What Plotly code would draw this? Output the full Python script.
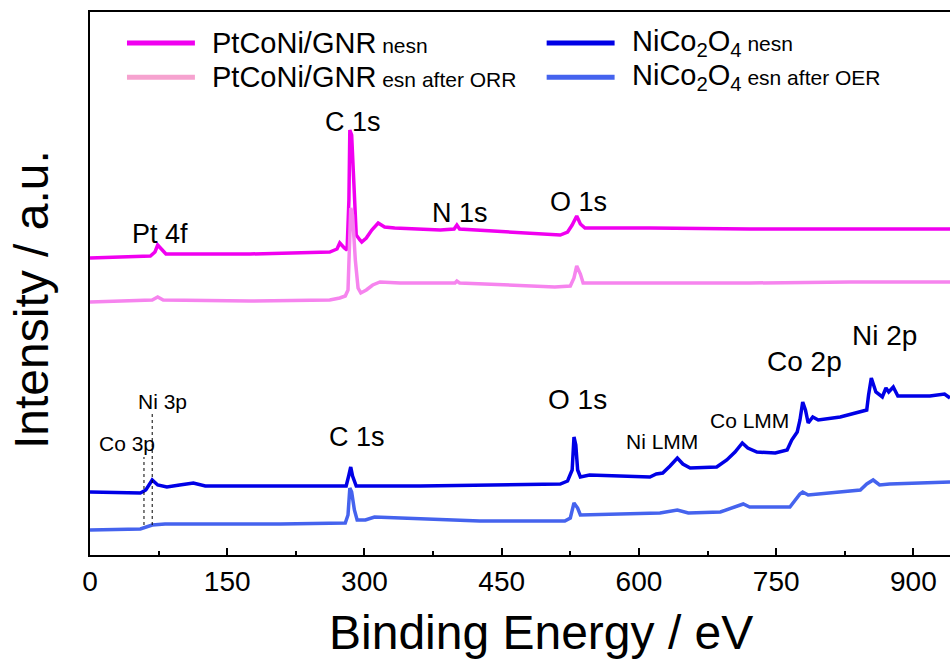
import plotly.graph_objects as go

# Survey XPS spectra (binding energy in eV, intensity in arbitrary units, offset for stacking)
pt_nesn_be = [0, 55, 66, 71, 74, 79, 83, 175, 219, 262, 270, 273, 278, 281, 283, 284, 286, 289, 291,
              295, 297, 302, 308, 315, 322, 333, 361, 383, 398, 401, 404, 437, 481, 514, 522, 527,
              532, 536, 541, 612, 721, 831, 940]
pt_nesn_int = [297, 298, 299, 303, 310, 305, 301, 301, 302, 303, 306, 312, 307, 305, 355, 425, 420, 355,
               320, 315, 313, 317, 325, 332, 328, 327, 326, 325, 326, 330, 326, 324, 322, 320, 323, 330,
               339, 331, 327, 327, 326, 326, 326]

pt_orr_be = [0, 55, 68, 74, 80, 175, 262, 273, 279, 282, 284, 285, 287, 290, 293, 296, 302, 309, 317,
             339, 399, 401, 404, 448, 508, 525, 529, 532, 536, 539, 612, 721, 831, 940]
pt_orr_int = [253, 254, 255, 258, 255, 254, 255, 257, 259, 265, 315, 347, 340, 295, 267, 262, 265, 270,
              273, 272, 272, 274, 272, 270, 268, 269, 277, 289, 281, 272, 272, 272, 273, 273]

nco_nesn_be = [0, 55, 61, 68, 74, 84, 98, 113, 126, 208, 280, 283, 285, 287, 291, 361, 426, 514, 522,
               527, 529, 531, 533, 536, 546, 579, 612, 619, 626, 634, 642, 648, 656, 685, 696, 705,
               713, 719, 729, 749, 762, 767, 773, 776, 779, 782, 785, 790, 796, 820, 849, 851, 854,
               859, 866, 870, 873, 878, 883, 918, 934, 940]
nco_nesn_int = [63, 62, 65, 75, 70, 68, 70, 72, 69, 69, 69, 80, 88, 79, 69, 69, 70, 71, 74,
                85, 118, 110, 85, 78, 80, 79, 78, 81, 82, 89, 97, 91, 87, 88, 95, 103,
                112, 107, 103, 102, 105, 115, 123, 135, 153, 145, 132, 138, 135, 138, 145, 160, 177,
                163, 158, 167, 163, 168, 159, 159, 161, 157]

nco_oer_be = [0, 55, 68, 82, 208, 279, 282, 284, 286, 289, 292, 301, 311, 372, 426, 519, 525, 529, 533,
              536, 579, 623, 642, 654, 689, 705, 714, 721, 765, 776, 779, 785, 842, 849, 856, 863,
              874, 940]
nco_oer_int = [25, 26, 30, 31, 31, 32, 40, 67, 63, 45, 35, 35, 38, 36, 34, 34, 37, 52, 47,
               40, 41, 42, 45, 42, 43, 48, 51, 48, 48, 61, 63, 60, 65, 71, 75, 70,
               71, 73]

# Core-level reference lines for Co 3p / Ni 3p
ref_line_be = [59, 68]
ref_line_top = [98, 142]
ref_line_bottom = 30

# Peak labels: text, binding energy, height, font size
peak_labels = ["Pt 4f", "C 1s", "N 1s", "O 1s", "Ni 3p", "Co 3p", "C 1s", "O 1s",
               "Ni LMM", "Co LMM", "Co 2p", "Ni 2p"]
peak_label_be = [76, 287, 404, 534, 79, 40, 292, 533, 625, 721, 781, 868]
peak_label_int = [321, 433, 342, 353, 154, 112, 118, 156, 114, 135, 194, 220]
peak_label_size = [27, 27, 27, 27, 21, 21, 27, 28, 21, 21, 28, 28]

series_names = ["PtCoNi/GNR nesn", "PtCoNi/GNR esn after ORR",
                "NiCo2O4 nesn", "NiCo2O4 esn after OER"]
series_colors = ["#F000F0", "#F684EE", "#0000E6", "#4563EE"]
legend_colors = ["#F000F0", "#F6A2CF", "#0000E6", "#4563EE"]
legend_main = ["PtCoNi/GNR", "PtCoNi/GNR", "NiCo<sub>2</sub>O<sub>4</sub>", "NiCo<sub>2</sub>O<sub>4</sub>"]
legend_small = ["nesn", "esn after ORR", "nesn", "esn after OER"]

FONT = "Liberation Sans, Arial, sans-serif"

fig = go.Figure()
for be, inten, name, color in zip(
        [pt_nesn_be, pt_orr_be, nco_nesn_be, nco_oer_be],
        [pt_nesn_int, pt_orr_int, nco_nesn_int, nco_oer_int],
        series_names, series_colors):
    fig.add_trace(go.Scatter(x=be, y=inten, mode="lines", name=name, showlegend=False,
                             line=dict(color=color, width=3.5)))

for be, top in zip(ref_line_be, ref_line_top):
    fig.add_trace(go.Scatter(x=[be, be], y=[ref_line_bottom, top], mode="lines", showlegend=False,
                             line=dict(color="black", width=1, dash="dot")))

annotations = []
for txt, bx, iy, fs in zip(peak_labels, peak_label_be, peak_label_int, peak_label_size):
    annotations.append(dict(x=bx, y=iy, xref="x", yref="y", text=txt, showarrow=False,
                            xanchor="center", yanchor="middle",
                            font=dict(family=FONT, size=fs, color="black")))

# Two-column legend drawn in paper coordinates
legend_col_x = [0.043, 0.043, 0.531, 0.531]
legend_row_y = [0.943, 0.880, 0.943, 0.880]
shapes = []
for cx, ry, col, main, small in zip(legend_col_x, legend_row_y, legend_colors, legend_main, legend_small):
    shapes.append(dict(type="line", xref="paper", yref="paper", x0=cx, x1=cx + 0.079, y0=ry, y1=ry,
                       line=dict(color=col, width=5)))
    annotations.append(dict(x=cx + 0.097, y=ry, xref="paper", yref="paper",
                            text=f"{main}<span style='font-size:21px'> {small}</span>",
                            showarrow=False, xanchor="left", yanchor="middle",
                            font=dict(family=FONT, size=29, color="black")))

# Axis titles
annotations.append(dict(x=0.5244, y=-0.1436, xref="paper", yref="paper", text="Binding Energy / eV",
                        showarrow=False, xanchor="center", yanchor="middle",
                        font=dict(family=FONT, size=48, color="black")))
annotations.append(dict(x=-0.0686, y=0.4696, xref="paper", yref="paper", text="Intensity / a.u.",
                        textangle=-90, showarrow=False, xanchor="center", yanchor="middle",
                        font=dict(family=FONT, size=48, color="black")))

fig.update_layout(
    width=950, height=661,
    margin=dict(l=90, r=0, t=12, b=106),
    paper_bgcolor="white", plot_bgcolor="white",
    font=dict(family=FONT, color="black"),
    annotations=annotations, shapes=shapes,
    xaxis=dict(range=[0, 940], tickmode="array", tickvals=[0, 150, 300, 450, 600, 750, 900],
               ticks="inside", ticklen=7, tickwidth=2, tickcolor="black",
               minor=dict(tickmode="array", tickvals=[75, 225, 375, 525, 675, 825],
                          ticks="inside", ticklen=4, tickwidth=2, tickcolor="black"),
               showline=True, linecolor="black", linewidth=2, mirror=True,
               showgrid=False, zeroline=False,
               tickfont=dict(family=FONT, size=28)),
    yaxis=dict(range=[0, 543], showticklabels=False, ticks="",
               showline=True, linecolor="black", linewidth=2, mirror=False,
               showgrid=False, zeroline=False),
)

fig.write_html("out.html")
